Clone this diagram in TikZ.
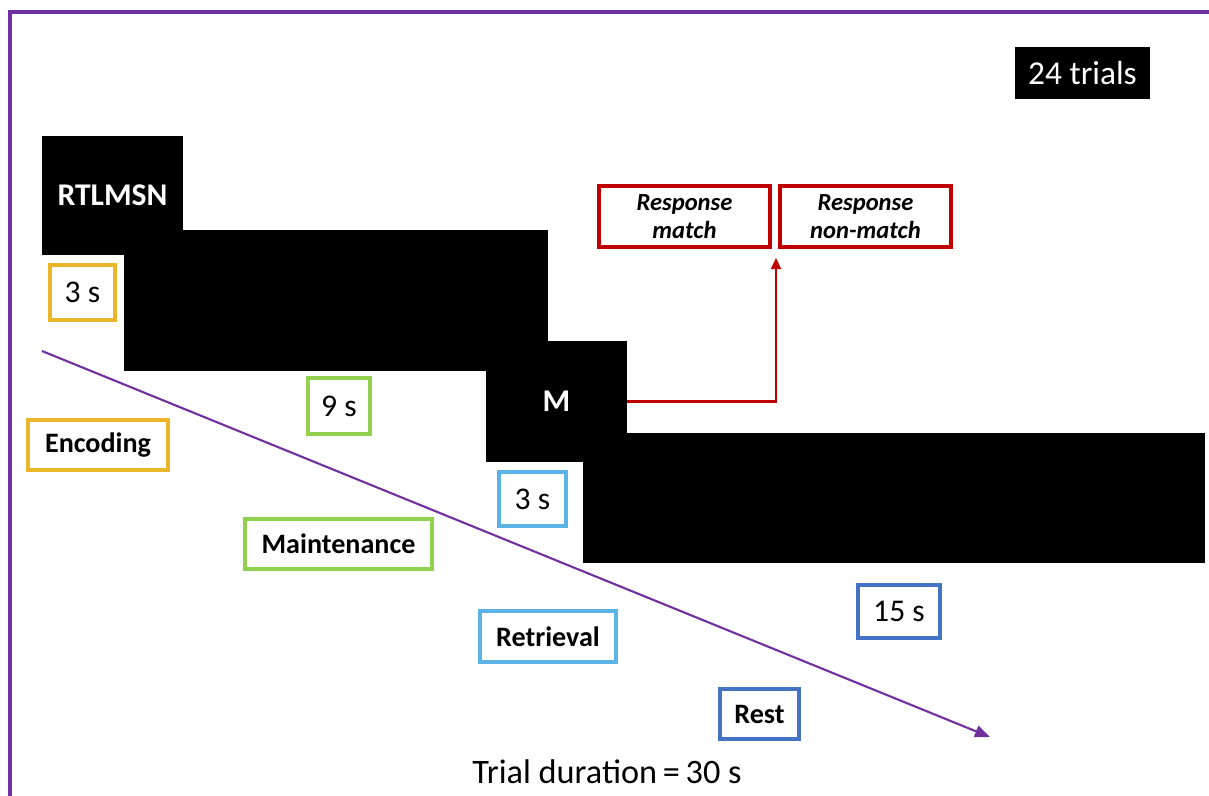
\documentclass[tikz,border=0pt]{standalone}
\usepackage{fontspec}
\setmainfont{Carlito}
\usetikzlibrary{arrows.meta, positioning, calc}
\definecolor{frpurple}{HTML}{7030A0}
\definecolor{encgold}{HTML}{EBB629}
\definecolor{mntgreen}{HTML}{92D050}
\definecolor{retblue}{HTML}{5BB3E6}
\definecolor{rstblue}{HTML}{4472C4}
\definecolor{resred}{HTML}{C00000}

\begin{document}
\begin{tikzpicture}[
  x=0.02cm, y=-0.02cm,
  blk/.style={fill=black, draw=none, inner sep=0pt, text=white,
    font=\fontsize{18}{20}\selectfont\bfseries},
  lbox/.style={draw=#1, line width=2.2pt, fill=white, inner sep=0pt,
    font=\fontsize{16}{18}\selectfont\bfseries, text=black},
  tbox/.style={draw=#1, line width=2.2pt, fill=white, inner sep=0pt,
    font=\fontsize{18}{20}\selectfont, text=black},
  rbox/.style={draw=resred, line width=1.9pt, fill=white, inner sep=0pt,
    minimum width=3.42cm, minimum height=1.22cm, align=center,
    font=\fontsize{14}{16}\selectfont\bfseries\itshape},
]

% Background
\useasboundingbox (0,0) rectangle (1209,795);
\fill[white] (0,0) rectangle (1209,795);
\draw[frpurple, line width=2.2pt] (10,12) rectangle (1230,820);

% Trial count
\node[blk, font=\fontsize{19}{21}\selectfont, minimum width=2.7cm, minimum height=1.04cm]
  (trials) at (1082.5,73) {24 trials};

% Black stimulus blocks
\node[blk, minimum width=8.48cm, minimum height=2.82cm] (delay) at (336,300.5) {};
\node[blk, minimum width=2.82cm, minimum height=2.38cm] (encode) at (112.5,195.5) {RTLMSN};
\node[blk, minimum width=12.44cm, minimum height=2.6cm] (rest) at (894,498) {};
\node[blk, minimum width=2.82cm, minimum height=2.42cm] (probe) at (556.5,401.5) {M};

% Response boxes
\node[rbox] (match) at (684.5,216.5) {Response\\match};
\node[rbox] (nonmatch) at (865.5,216.5) {Response\\non-match};

% Response arrow
\coordinate (resp) at (776,258);
\draw[resred, line width=1.2pt, -{Triangle[length=2.2mm, width=2mm]}]
  (probe.east) -| (resp);

% Time line
\coordinate (tstart) at (42,351);
\coordinate (tend) at (990,737);
\draw[frpurple, line width=1.2pt, -{Triangle[length=3mm, width=2.4mm]}] (tstart) -- (tend);

% Durations
\node[tbox=encgold, minimum width=1.3cm, minimum height=1.1cm] (dur1) at (82.5,292.5) {3 s};
\node[tbox=mntgreen, minimum width=1.24cm, minimum height=1.12cm] (dur2) at (339,406) {9 s};
\node[tbox=retblue, minimum width=1.34cm, minimum height=1.08cm] (dur3) at (532.5,499) {3 s};
\node[tbox=rstblue, minimum width=1.64cm, minimum height=1.06cm] (dur4) at (899,611.5) {15 s};

% Phase labels
\node[lbox=encgold, minimum width=2.8cm, minimum height=1cm] (encoding) at (98,445) {Encoding};
\node[lbox=mntgreen, minimum width=3.74cm, minimum height=1cm] (maintenance) at (338.5,544) {Maintenance};
\node[lbox=retblue, minimum width=2.72cm, minimum height=1.02cm] (retrieval) at (548,636.5) {Retrieval};
\node[lbox=rstblue, minimum width=1.58cm, minimum height=1cm] (restlbl) at (759.5,714) {Rest};

% Bottom caption
\node[font=\fontsize{19.5}{22}\selectfont] (duration) at (607,772) {Trial duration\,=\,30 s};

\end{tikzpicture}
\end{document}
